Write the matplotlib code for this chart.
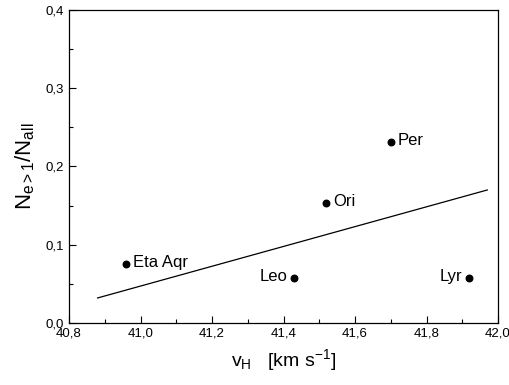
import matplotlib
matplotlib.use("Agg")
import matplotlib.pyplot as plt
from matplotlib.ticker import MultipleLocator, FuncFormatter

plt.rcParams['font.family'] = ['Liberation Sans', 'DejaVu Sans']
plt.rcParams['mathtext.fontset'] = 'custom'
plt.rcParams['mathtext.rm'] = 'Liberation Sans'
plt.rcParams['mathtext.it'] = 'Liberation Sans'

names = ["Per", "Ori", "Eta Aqr", "Leo", "Lyr"]
vh = [41.70, 41.52, 40.96, 41.43, 41.92]
ratio = [0.231, 0.153, 0.076, 0.058, 0.058]
fit_x = [40.88, 41.97]
fit_y = [0.032, 0.170]

fig = plt.figure(figsize=(5.09, 3.85), dpi=100)
ax = fig.add_axes([69/509, 1-323/385, (498-69)/509, (323-10)/385])

ax.plot(fit_x, fit_y, color='black', lw=0.9)
ax.scatter(vh, ratio, s=22, color='black', zorder=3)

offsets = {"Per": (5, 1, 'left'), "Ori": (5, 1, 'left'), "Eta Aqr": (5, 1, 'left'),
           "Leo": (-5, 1, 'right'), "Lyr": (-5, 1, 'right')}
for n, x, y in zip(names, vh, ratio):
    dx, dy, ha = offsets[n]
    ax.annotate(n, (x, y), xytext=(dx, dy), textcoords='offset points',
                ha=ha, va='center', fontsize=12)

ax.set_xlim(40.8, 42.0)
ax.set_ylim(0.0, 0.4)
ax.xaxis.set_major_locator(MultipleLocator(0.2))
ax.xaxis.set_minor_locator(MultipleLocator(0.1))
ax.yaxis.set_major_locator(MultipleLocator(0.1))
ax.yaxis.set_minor_locator(MultipleLocator(0.05))
ax.xaxis.set_major_formatter(FuncFormatter(lambda v, p: f"{v:.1f}".replace('.', ',')))
ax.yaxis.set_major_formatter(FuncFormatter(lambda v, p: f"{v:.1f}".replace('.', ',')))
ax.tick_params(which='both', direction='in', top=False, right=False, labelsize=9.5)
ax.tick_params(which='major', length=5, width=0.8)
ax.tick_params(which='minor', length=3, width=0.8)
for s in ax.spines.values():
    s.set_linewidth(0.9)

ax.set_xlabel(r"v$_\mathrm{H}$   [km s$^\mathrm{-1}$]", fontsize=14, labelpad=5)
ax.set_ylabel(r"N$_\mathrm{e>1}$/N$_\mathrm{all}$", fontsize=16, labelpad=6)

fig.savefig("out.png", dpi=100)
